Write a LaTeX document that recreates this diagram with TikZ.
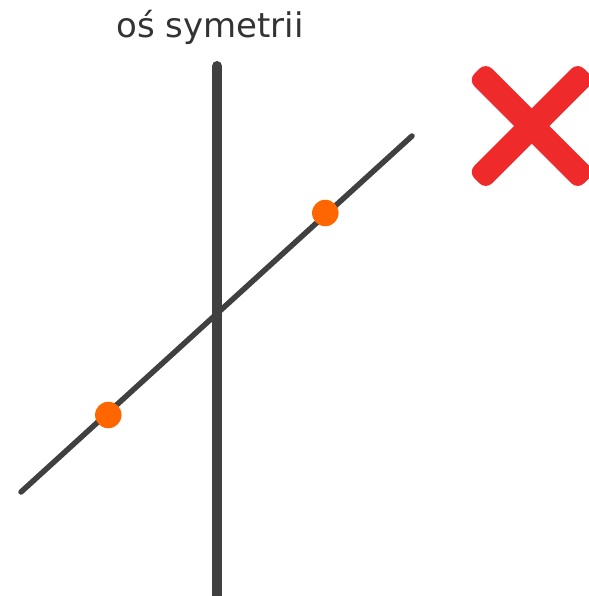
\documentclass[tikz,border=0pt]{standalone}
\usepackage{fontspec}
\setmainfont{DejaVu Sans}
\usetikzlibrary{calc}
\definecolor{axisgray}{HTML}{404040}
\definecolor{textgray}{HTML}{333333}
\definecolor{dotorange}{HTML}{FF6600}
\definecolor{crossred}{HTML}{EE2A2B}
\tikzset{
  axisline/.style={draw=axisgray, line width=10pt, line cap=round},
  diagline/.style={draw=axisgray, line width=5.5pt, line cap=round},
  pointdot/.style={circle, fill=dotorange, minimum size=26.5pt, inner sep=0pt},
  crossarm/.style={fill=crossred, rounded corners=9pt},
  titletext/.style={text=textgray, font=\fontsize{34}{40}\selectfont, anchor=base, inner sep=0pt}
}
\begin{document}
\begin{tikzpicture}[x=1pt,y=-1pt]
\useasboundingbox (0,0) rectangle (588,596);
% title
\node[titletext] (title) at (210,37.5) {oś symetrii};
% axis of symmetry
\coordinate (axtop) at (217,66);
\coordinate (axbot) at (217,620);
\draw[axisline] (axtop) -- (axbot);
% diagonal line
\coordinate (dA) at (21,492);
\coordinate (dB) at (412,136);
\draw[diagline] (dA) -- (dB);
% points
\node[pointdot] (p1) at (108.3,415) {};
\node[pointdot] (p2) at (325.3,213) {};
% red cross
\coordinate (xc) at (531.7,126);
\fill[crossarm, rotate around={45:(xc)}] ($(xc)+(-77.5,-12.5)$) rectangle ($(xc)+(77.5,12.5)$);
\fill[crossarm, rotate around={-45:(xc)}] ($(xc)+(-77.5,-12.5)$) rectangle ($(xc)+(77.5,12.5)$);
\end{tikzpicture}
\end{document}
